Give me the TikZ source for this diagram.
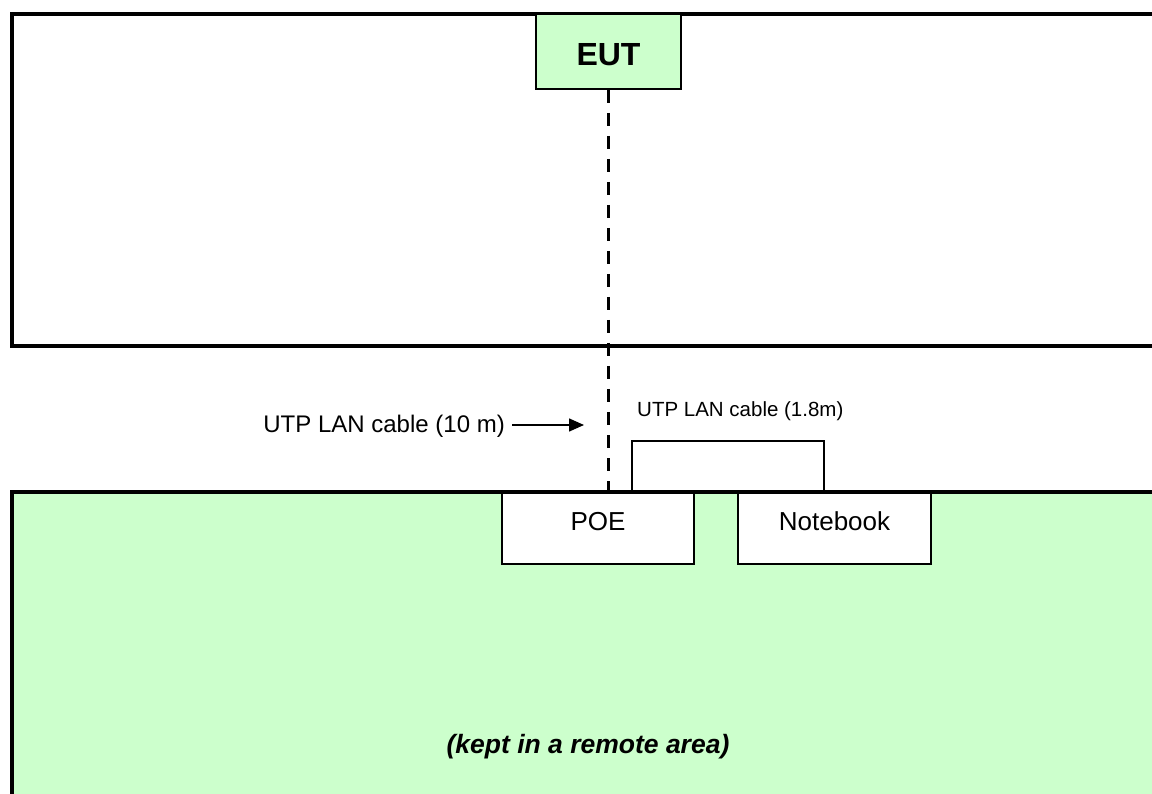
\documentclass[tikz,border=0pt]{standalone}
\usepackage{fontspec}
\setmainfont{Liberation Sans}
\usetikzlibrary{arrows.meta}
\definecolor{roomgreen}{HTML}{CCFFCC}
\begin{document}
\begin{tikzpicture}[x=1pt,y=-1pt,
  wall/.style={line width=4pt},
  devbox/.style={draw, line width=1.5pt, fill=white, minimum width=192pt, minimum height=72pt,
    inner sep=0pt, font=\fontsize{26}{30}\selectfont, text height=19pt, text depth=14pt},
  eutbox/.style={draw, line width=2pt, fill=roomgreen, minimum width=145pt, minimum height=75pt,
    inner sep=0pt, font=\bfseries\fontsize{32}{38}\selectfont, text height=29pt, text depth=0pt},
  cablelabel/.style={inner sep=0pt, font=\fontsize{24}{28}\selectfont},
  cable/.style={line width=3pt, dash pattern=on 13pt off 10pt},
  thincable/.style={line width=1.2pt},
  pointer/.style={line width=1.5pt, -{Triangle[length=15pt,width=13pt]}}]
\useasboundingbox (0,0) rectangle (1152,794);
\clip (0,0) rectangle (1152,794);
% remote area (bottom)
\fill[roomgreen] (12,491.5) rectangle (1160,800);
% devices
\node[devbox] (poe) at (598,528) {POE};
\node[devbox, minimum width=193pt] (nb) at (834.5,528) {Notebook};
% walls
\draw[wall] (1160,491.5) -- (12,491.5) -- (12,800);
\draw[wall] (1160,14) -- (12,14) -- (12,346) -- (1160,346);
% EUT
\node[eutbox] (eut) at (608.5,51.5) {EUT};
% 10 m cable
\draw[cable] (eut.south) -- (eut.south |- poe.north);
% 1.8 m cable
\coordinate (c1) at (632,441);
\coordinate (c2) at (824,441);
\draw[thincable] (c1 |- poe.north) -- (c1) -- (c2) -- (c2 |- nb.north);
% labels
\node[cablelabel, anchor=base east] (lab10) at (505,432) {UTP LAN cable (10 m)};
\coordinate (tip) at (584,425);
\draw[pointer] ([xshift=7pt]lab10.east |- tip) -- (tip);
\node[cablelabel, font=\fontsize{20.5}{24}\selectfont, anchor=base west] (lab18) at (637,417) {UTP LAN cable (1.8m)};
\node[inner sep=0pt, font=\bfseries\itshape\fontsize{26.5}{30}\selectfont, anchor=base] (remote) at (588,753) {(kept in a remote area)};
\end{tikzpicture}
\end{document}
